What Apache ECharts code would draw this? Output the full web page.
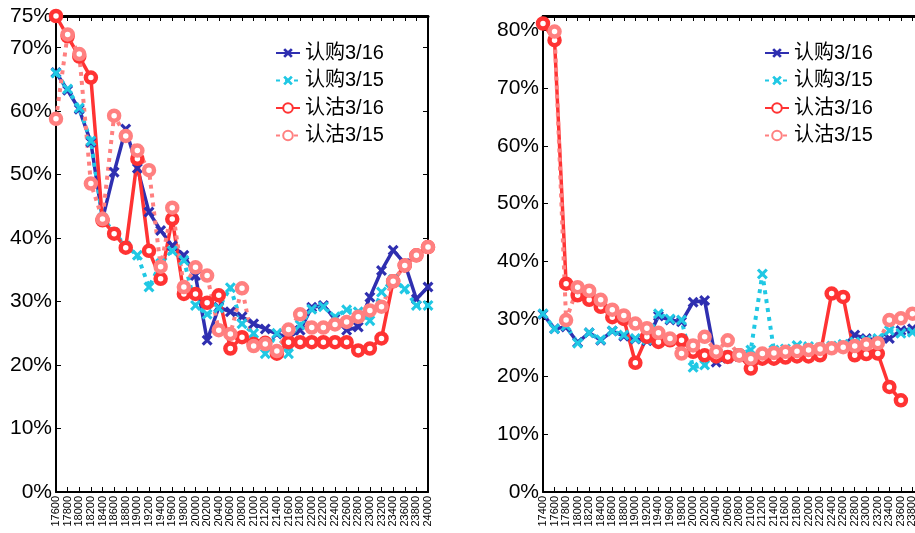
<!DOCTYPE html>
<html>
<head>
<meta charset="utf-8">
<script src="https://cdn.jsdelivr.net/npm/echarts@6/dist/echarts.min.js"></script>
<style>
html,body{margin:0;padding:0;background:#fff;}
#c{width:915px;height:533px;}
</style>
</head>
<body>
<div id="c"></div>
<script>
// ---- data ----
var seriesNames = ['认购3/16', '认购3/15', '认沽3/16', '认沽3/15'];

var leftCats = ['17600','17800','18000','18200','18400','18600','18800','19000','19200','19400',
  '19600','19800','20000','20200','20400','20600','20800','21000','21200','21400',
  '21600','21800','22000','22200','22400','22600','22800','23000','23200','23400',
  '23600','23800','24000'];
var leftCall16 = [66.1,63.3,60.3,55.1,43.0,50.4,57.2,51.0,44.1,41.2,38.8,37.3,34.1,23.9,29.1,28.4,27.6,26.5,25.7,24.9,24.4,25.5,29.1,29.4,27.3,25.5,26.0,30.7,34.9,38.1,36.0,30.4,32.3];
var leftCall15 = [66.0,63.5,60.5,55.3,43.2,40.9,38.8,37.3,32.3,36.0,38.0,36.5,29.4,28.0,29.0,32.2,26.5,25.0,21.8,25.0,21.8,26.3,28.8,29.2,27.6,28.7,28.4,27.0,31.5,33.5,32.0,29.4,29.4];
var leftPut16 = [75.0,71.8,68.6,65.3,42.8,40.7,38.5,52.5,38.0,33.6,43.0,31.2,31.2,29.8,31.0,22.6,24.4,23.3,23.5,21.8,23.6,23.6,23.6,23.6,23.6,23.6,22.3,22.6,24.2,33.2,35.7,37.3,38.6];
var leftPut15 = [58.8,72.1,69.0,48.6,43.0,59.3,56.1,53.8,50.7,35.5,44.8,32.3,35.4,34.1,25.5,24.9,32.1,23.0,23.3,22.2,25.6,28.0,25.9,25.9,26.4,26.8,27.6,28.6,29.2,33.2,35.7,37.3,38.6];

var rightCats = ['17400','17600','17800','18000','18200','18400','18600','18800','19000','19200',
  '19400','19600','19800','20000','20200','20400','20600','20800','21000','21200',
  '21400','21600','21800','22000','22200','22400','22600','22800','23000','23200',
  '23400','23600','23800','24000'];
var rightCall16 = [30.8,28.3,28.6,25.9,27.6,26.3,27.9,27.0,26.5,26.2,30.5,29.8,29.5,32.9,33.2,22.5,23.2,23.5,23.0,23.6,23.9,24.1,24.3,24.5,24.7,25.0,25.3,27.2,26.6,26.3,26.6,28.0,28.3,28.5];
var rightCall15 = [30.9,28.3,28.8,25.8,27.6,26.4,27.9,27.2,26.6,26.4,30.9,30.0,29.8,21.6,22.0,23.3,23.6,23.9,24.6,37.8,24.6,24.8,25.4,25.2,25.0,25.3,25.6,26.0,26.3,26.6,28.0,27.5,27.7,27.8];
var rightPut16 = [81.2,78.3,36.1,34.1,33.3,32.1,30.3,30.0,22.4,26.9,26.0,26.3,26.3,24.3,23.7,23.5,23.4,23.7,21.4,23.1,23.1,23.3,23.5,23.5,23.7,34.4,33.8,23.7,23.9,24.0,18.2,15.9,null,null];
var rightPut15 = [null,79.8,29.8,35.5,34.9,33.3,31.6,30.6,29.2,28.4,27.6,26.6,24.0,25.4,26.9,24.3,26.3,23.7,23.1,24.0,24.1,24.3,24.4,24.6,24.8,24.9,25.1,25.3,25.6,25.8,29.8,30.1,30.9,31.3];

var leftYMax = 75, rightYMax = 82.5, yStep = 10;

// ---- styles ----
var C_BLUE = '#2F2FB0', C_CYAN = '#20C8E4', C_RED = '#FF3333', C_PINK = '#FF8080';
var X_SYM = 'path://M2,0 L5,3 L8,0 L10,2 L7,5 L10,8 L8,10 L5,7 L2,10 L0,8 L3,5 L0,2 Z';
var FONT = '"Liberation Sans", Arial, "Noto Sans CJK SC", sans-serif';

function mkSeries(name, data, xi, yi) {
  var s = {name: name, type: 'line', data: data, xAxisIndex: xi, yAxisIndex: yi,
    connectNulls: false, animation: false};
  if (name === seriesNames[0]) {
    s.lineStyle = {color: C_BLUE, width: 3.5};
    s.symbol = X_SYM; s.symbolSize = 11;
    s.itemStyle = {color: C_BLUE};
  } else if (name === seriesNames[1]) {
    s.lineStyle = {color: C_CYAN, width: 4, type: [4, 5]};
    s.symbol = X_SYM; s.symbolSize = 11;
    s.itemStyle = {color: C_CYAN};
  } else if (name === seriesNames[2]) {
    s.lineStyle = {color: C_RED, width: 3.5};
    s.symbol = 'circle'; s.symbolSize = 10;
    s.itemStyle = {color: '#fff', borderColor: C_RED, borderWidth: 4.5};
  } else {
    s.lineStyle = {color: C_PINK, width: 4, type: [4, 5]};
    s.symbol = 'circle'; s.symbolSize = 10;
    s.itemStyle = {color: '#fff', borderColor: C_PINK, borderWidth: 4.5};
  }
  return s;
}

function axLine(w) { return {show: true, onZero: false, lineStyle: {color: '#000', width: w}}; }
function xAx(grid, cats, pos, showLabel) {
  return {type: 'category', gridIndex: grid, data: cats, position: pos, boundaryGap: false,
    axisLine: axLine(pos === 'top' ? 3 : 2),
    axisTick: {show: true, inside: true, length: 5, interval: 0, lineStyle: {color: '#000', width: 1}},
    axisLabel: {show: showLabel, rotate: 90, interval: 0, fontSize: 11, color: '#000', margin: 4, fontFamily: FONT},
    splitLine: {show: false}};
}
function yAx(grid, max, pos, showLabel) {
  return {type: 'value', gridIndex: grid, min: 0, max: max, interval: yStep, position: pos,
    axisLine: axLine(2),
    axisTick: {show: true, inside: true, length: 5, lineStyle: {color: '#000', width: 1}},
    axisLabel: {show: showLabel, formatter: '{value}%', fontSize: 21, color: '#000', margin: 4,
      fontFamily: FONT},
    splitLine: {show: false}};
}
function legend(left) {
  return {data: seriesNames, orient: 'vertical', left: left, top: 43,
    itemWidth: 24, itemHeight: 12, itemGap: 7.5,
    textStyle: {fontSize: 20, lineHeight: 20, color: '#000', fontFamily: FONT},
    padding: 0, selectedMode: false};
}

var chart = echarts.init(document.getElementById('c'), null, {renderer: 'canvas'});
var series = [];
[leftCall16, leftCall15, leftPut16, leftPut15].forEach(function (d, k) { series.push(mkSeries(seriesNames[k], d, 0, 0)); });
[rightCall16, rightCall15, rightPut16, rightPut15].forEach(function (d, k) { series.push(mkSeries(seriesNames[k], d, 2, 2)); });

chart.setOption({
  animation: false,
  grid: [
    {left: 56, top: 16, width: 372, height: 476, outerBoundsMode: 'none'},
    {left: 543, top: 16, width: 381, height: 476, outerBoundsMode: 'none'}
  ],
  xAxis: [xAx(0, leftCats, 'bottom', true), xAx(0, leftCats, 'top', false),
          xAx(1, rightCats, 'bottom', true), xAx(1, rightCats, 'top', false)],
  yAxis: [yAx(0, leftYMax, 'left', true), yAx(0, leftYMax, 'right', false),
          yAx(1, rightYMax, 'left', true), yAx(1, rightYMax, 'right', false)],
  legend: [legend(275), legend(764)],
  series: series
});
</script>
</body>
</html>
